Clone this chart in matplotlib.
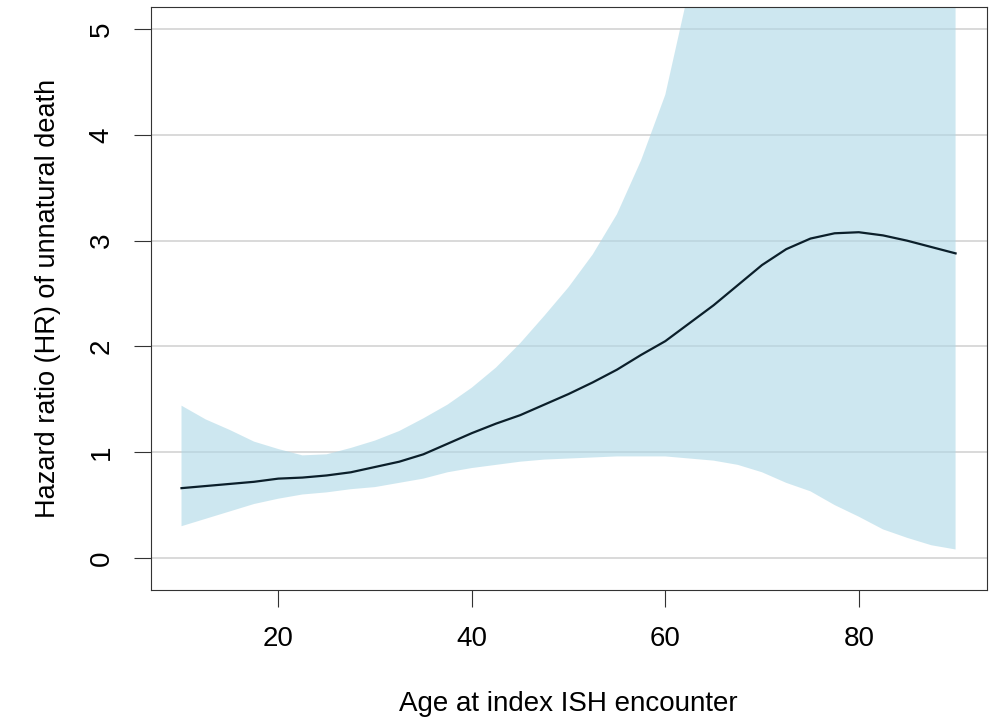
import numpy as np
import matplotlib.pyplot as plt

plt.rcParams['font.family'] = ['Liberation Sans', 'DejaVu Sans']

# age at index ISH encounter
age = [10, 12.5, 15, 17.5, 20, 22.5, 25, 27.5, 30, 32.5, 35, 37.5, 40, 42.5,
       45, 47.5, 50, 52.5, 55, 57.5, 60, 62.5, 65, 67.5, 70, 72.5, 75, 77.5,
       80, 82.5, 85, 87.5, 90]
# hazard ratio (point estimate)
hr = [0.66, 0.68, 0.70, 0.72, 0.75, 0.76, 0.78, 0.81, 0.86, 0.91, 0.98, 1.08,
      1.18, 1.27, 1.35, 1.45, 1.55, 1.66, 1.78, 1.92, 2.05, 2.22, 2.39, 2.58,
      2.77, 2.92, 3.02, 3.07, 3.08, 3.05, 3.00, 2.94, 2.88]
# lower 95% CI
lower = [0.30, 0.37, 0.44, 0.51, 0.56, 0.60, 0.62, 0.65, 0.67, 0.71, 0.75, 0.81,
         0.85, 0.88, 0.91, 0.93, 0.94, 0.95, 0.96, 0.96, 0.96, 0.94, 0.92, 0.88,
         0.81, 0.71, 0.63, 0.50, 0.39, 0.27, 0.19, 0.12, 0.08]
# upper 95% CI
upper = [1.44, 1.31, 1.21, 1.10, 1.03, 0.97, 0.98, 1.04, 1.11, 1.20, 1.32, 1.45,
         1.61, 1.80, 2.03, 2.29, 2.56, 2.87, 3.25, 3.76, 4.38, 5.4, 6.8, 8.4,
         10.0, 12.0, 14.0, 16.0, 18.0, 20.0, 22.0, 24.0, 26.0]

fig, ax = plt.subplots(figsize=(9.97, 7.19), dpi=100)
fig.subplots_adjust(left=0.151, right=0.9895, bottom=0.179, top=0.9903)

for y in range(6):
    ax.axhline(y, color='#d3d3d3', lw=1.2, zorder=0)
ax.fill_between(age, lower, upper, color='#add8e6', alpha=0.6, lw=0, zorder=1)
ax.plot(age, hr, color='#0b1f2a', lw=1.6, zorder=2)

ax.set_xlim(6.8, 93.2)
ax.set_ylim(-0.306, 5.21)
ax.set_xticks([20, 40, 60, 80])
ax.set_yticks([0, 1, 2, 3, 4, 5])
ax.tick_params(axis='both', length=12, width=0.8, color='#333333', pad=14,
               labelsize=20)
plt.setp(ax.get_yticklabels(), rotation=90, va='center')
for s in ax.spines.values():
    s.set_linewidth(0.8)
    s.set_color('#333333')

ax.set_xlabel('Age at index ISH encounter', fontsize=20, labelpad=28)
ax.set_ylabel('Hazard ratio (HR) of unnatural death', fontsize=19.5, labelpad=20)

fig.savefig('out.png', dpi=100)
